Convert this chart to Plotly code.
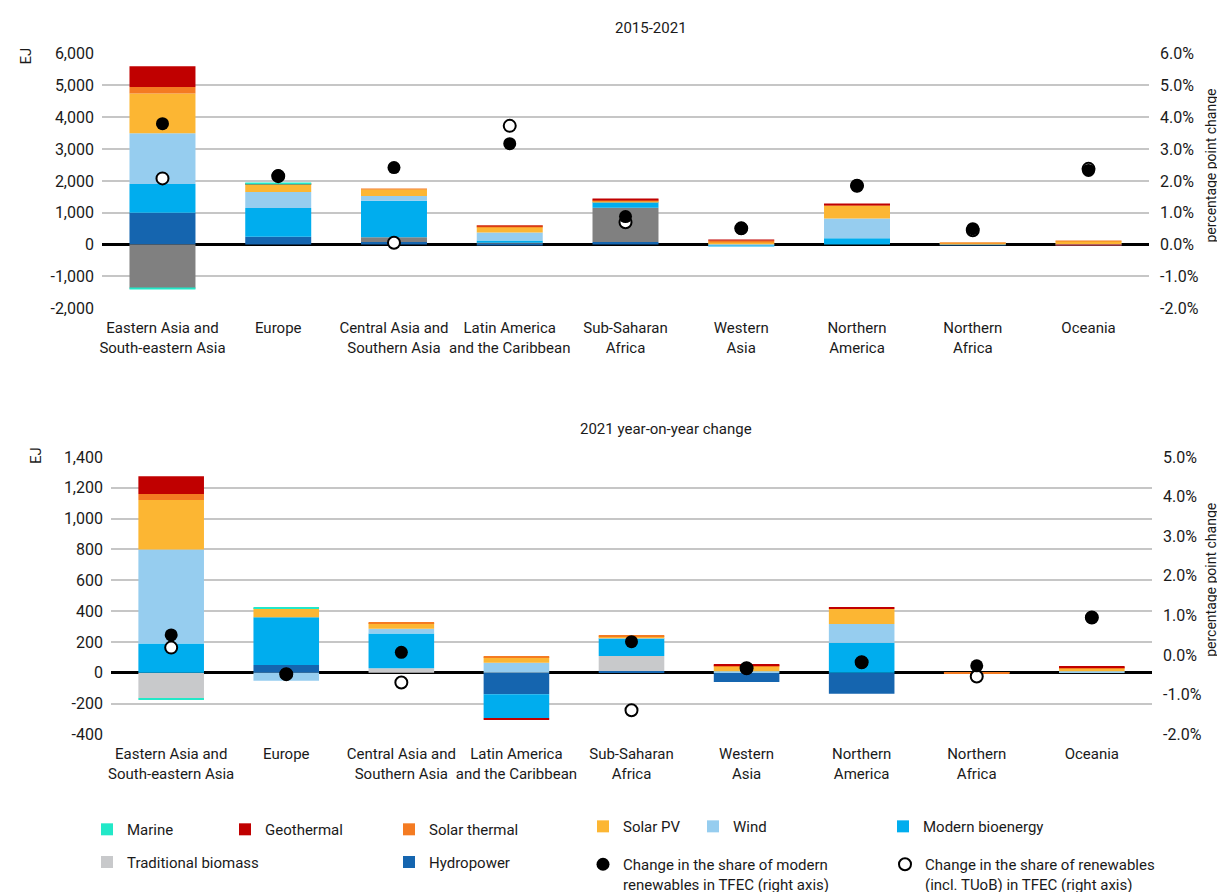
import plotly.graph_objects as go

# regions on the x axis (same order in both panels)
regions = ["Eastern Asia and<br>South-eastern Asia", "Europe", "Central Asia and<br>Southern Asia",
           "Latin America<br>and the Caribbean", "Sub-Saharan<br>Africa", "Western<br>Asia",
           "Northern<br>America", "Northern<br>Africa", "Oceania"]

# --- 2015-2021 change (EJ) ---
hydro_1521 = [1000, 250, 80, 40, 80, 0, 0, 5, 0]
tradbio_1521 = [-1380, 0, 150, 20, 1080, 0, 0, 0, 0]
modbio_1521 = [900, 900, 1150, 70, 180, -40, 200, 5, 0]
wind_1521 = [1600, 500, 150, 250, 10, 15, 620, 5, 10]
solarpv_1521 = [1250, 250, 210, 180, 30, 70, 410, 20, 100]
solarth_1521 = [200, 10, 10, 15, 15, 50, 15, 20, 5]
geo_1521 = [650, 5, 0, 5, 20, 15, 15, 0, -8]
marine_1521 = [-10, 20, 0, 0, 0, 0, 0, 0, 0]
# percentage point change (right axis)
modern_share_1521 = [3.8, 2.17, 2.42, 3.17, 0.88, 0.51, 1.85, 0.5, 2.33]
total_share_1521 = [2.08, 2.15, 0.06, 3.73, 0.7, 0.51, 1.85, 0.45, 2.38]

# --- 2021 year-on-year change (EJ) ---
hydro_21 = [0, 50, 0, -140, 11, -60, -136, 0, 0]
tradbio_21 = [-165, 0, 30, 0, 97, 0, 0, 0, 0]
modbio_21 = [190, 310, 225, -155, 114, 0, 194, 0, 0]
wind_21 = [610, -52, 30, 65, 2, 10, 122, 0, 10]
solarpv_21 = [320, 60, 38, 35, 13, 30, 99, 5, 18]
solarth_21 = [40, 0, 5, 5, 3, 10, 0, -8, 5]
geo_21 = [115, 0, 0, -5, 0, 5, 11, 0, 6]
marine_21 = [-5, 5, 0, 0, 0, 0, 0, 0, 0]
modern_share_21 = [0.51, -0.48, 0.07, None, 0.34, -0.33, -0.18, -0.27, 0.95]
total_share_21 = [0.19, -0.48, -0.69, None, -1.39, -0.33, -0.18, -0.54, 0.95]

# axis ticks
ej_ticks_top = [-2000, -1000, 0, 1000, 2000, 3000, 4000, 5000, 6000]
pct_ticks_top = [-2, -1, 0, 1, 2, 3, 4, 5, 6]
ej_ticks_bot = [-400, -200, 0, 200, 400, 600, 800, 1000, 1200, 1400]
pct_ticks_bot = [-2, -1, 0, 1, 2, 3, 4, 5]

sources = ["Hydropower", "Traditional biomass", "Modern bioenergy", "Wind",
           "Solar PV", "Solar thermal", "Geothermal", "Marine"]
colors = {"Hydropower": "#1565AF", "Traditional biomass": "#C8C9CB", "Modern bioenergy": "#00ADEE",
          "Wind": "#96CDEF", "Solar PV": "#FCB633", "Solar thermal": "#F47B22",
          "Geothermal": "#C00000", "Marine": "#22E8C8"}
top_data = [hydro_1521, tradbio_1521, modbio_1521, wind_1521, solarpv_1521, solarth_1521, geo_1521, marine_1521]
bot_data = [hydro_21, tradbio_21, modbio_21, wind_21, solarpv_21, solarth_21, geo_21, marine_21]

FONT = "Roboto, sans-serif"
TXT = "#1a1a1a"
W, H = 1225, 892

# legend placement (text left x, text centre y in px)
legend_pos = {"Marine": (124, 828), "Geothermal": (262, 828), "Solar thermal": (426, 828),
              "Solar PV": (620, 825), "Wind": (730, 825), "Modern bioenergy": (920, 825),
              "Traditional biomass": (124, 861), "Hydropower": (426, 861),
              "modern": (620, 858), "total": (922, 858)}

fig = go.Figure()

legends = {}
for i, key in enumerate(legend_pos):
    name = "legend" if i == 0 else f"legend{i + 1}"
    tx, ty = legend_pos[key]
    multi = key in ("modern", "total")
    legends[key] = name
    fig.layout[name] = dict(
        x=(tx - 45) / W, xanchor="left",
        y=1 - (ty - 10) / H if multi else 1 - (ty + 1) / H,
        yanchor="top" if multi else "middle",
        bgcolor="rgba(0,0,0,0)", font=dict(family=FONT, size=15, color=TXT),
        itemwidth=30, valign="top", tracegroupgap=0,
    )

# top panel bars
for src, vals in zip(sources, top_data):
    col = "#808080" if src == "Traditional biomass" else colors[src]
    fig.add_trace(go.Bar(x=regions, y=vals, marker_color=col, marker_line_width=0,
                         showlegend=False, xaxis="x", yaxis="y", name=src))
# bottom panel bars (carry the legend)
for src, vals in zip(sources, bot_data):
    fig.add_trace(go.Bar(x=regions, y=vals, marker_color=colors[src], marker_line_width=0,
                         name=src, legend=legends[src], xaxis="x2", yaxis="y3"))

# share markers: white circles first, black dots on top
fig.add_trace(go.Scatter(x=regions, y=total_share_1521, mode="markers", xaxis="x", yaxis="y2",
                         marker=dict(color="white", size=12, line=dict(color="black", width=2)),
                         showlegend=False))
fig.add_trace(go.Scatter(x=regions, y=modern_share_1521, mode="markers", xaxis="x", yaxis="y2",
                         marker=dict(color="black", size=13), showlegend=False))
fig.add_trace(go.Scatter(x=regions, y=total_share_21, mode="markers", xaxis="x2", yaxis="y4",
                         marker=dict(color="white", size=12, line=dict(color="black", width=2)),
                         name="Change in the share of renewables<br>(incl. TUoB) in TFEC (right axis)",
                         legend=legends["total"]))
fig.add_trace(go.Scatter(x=regions, y=modern_share_21, mode="markers", xaxis="x2", yaxis="y4",
                         marker=dict(color="black", size=13),
                         name="Change in the share of modern<br>renewables in TFEC (right axis)",
                         legend=legends["modern"]))

tickfont = dict(family=FONT, size=16, color=TXT)
xcommon = dict(type="category", showgrid=False, showline=False, ticks="", tickangle=0,
               tickfont=dict(family=FONT, size=15, color=TXT), automargin=False,
               ticklabelstandoff=9)
ycommon = dict(showgrid=True, gridcolor="#C6C6C6", gridwidth=1.5, zeroline=True,
               zerolinecolor="black", zerolinewidth=3, showline=False, ticks="",
               tickfont=tickfont, automargin=False, ticklabelstandoff=7)
rcommon = dict(showgrid=False, zeroline=False, showline=False, ticks="", side="right",
               tickfont=tickfont, automargin=False, ticklabelstandoff=10)

fig.update_layout(
    width=W, height=H,
    margin=dict(l=0, r=0, t=0, b=0),
    paper_bgcolor="white", plot_bgcolor="white",
    barmode="relative", bargap=0.43,
    font=dict(family=FONT, color=TXT),
    xaxis=dict(domain=[94 / W, 1141 / W], anchor="y", **xcommon),
    yaxis=dict(domain=[1 - 303 / H, 1 - 46 / H], anchor="x", range=[-2000, 6000],
               tickvals=ej_ticks_top, ticktext=[f"{v:,}" for v in ej_ticks_top], **ycommon),
    yaxis2=dict(overlaying="y", anchor="x", range=[-2, 6], tickvals=pct_ticks_top,
                ticktext=[f"{v:.1f}%" for v in pct_ticks_top], **rcommon),
    xaxis2=dict(domain=[103 / W, 1144 / W], anchor="y3", **xcommon),
    yaxis3=dict(domain=[1 - 733 / H, 1 - 453 / H], anchor="x2", range=[-400, 1400],
                tickvals=ej_ticks_bot, ticktext=[f"{v:,}" for v in ej_ticks_bot], **ycommon),
    yaxis4=dict(overlaying="y3", anchor="x2", range=[-2, 5], tickvals=pct_ticks_bot,
                ticktext=[f"{v:.1f}%" for v in pct_ticks_bot], **rcommon),
)

ann = dict(xref="paper", yref="paper", showarrow=False, xanchor="center", yanchor="middle")
f15 = dict(family=FONT, size=15, color=TXT)
f14 = dict(family=FONT, size=14, color=TXT)
fig.add_annotation(text="2015-2021", x=643 / W, y=1 - 20 / H, font=f15, **ann)
fig.add_annotation(text="2021 year-on-year change", x=658 / W, y=1 - 425 / H, font=f15, **ann)
fig.add_annotation(text="EJ", x=18 / W, y=1 - 49 / H, textangle=-90, font=f15, **ann)
fig.add_annotation(text="EJ", x=28 / W, y=1 - 452 / H, textangle=-90, font=f15, **ann)
rann = dict(xref="paper", yref="paper", showarrow=False, xanchor="right", yanchor="middle",
            textangle=-90, font=f14)
fig.add_annotation(text="percentage point change", x=1213 / W, y=1 - 159 / H, **rann)
fig.add_annotation(text="percentage point change", x=1213 / W, y=1 - 577 / H, **rann)

fig.write_html("out.html")
